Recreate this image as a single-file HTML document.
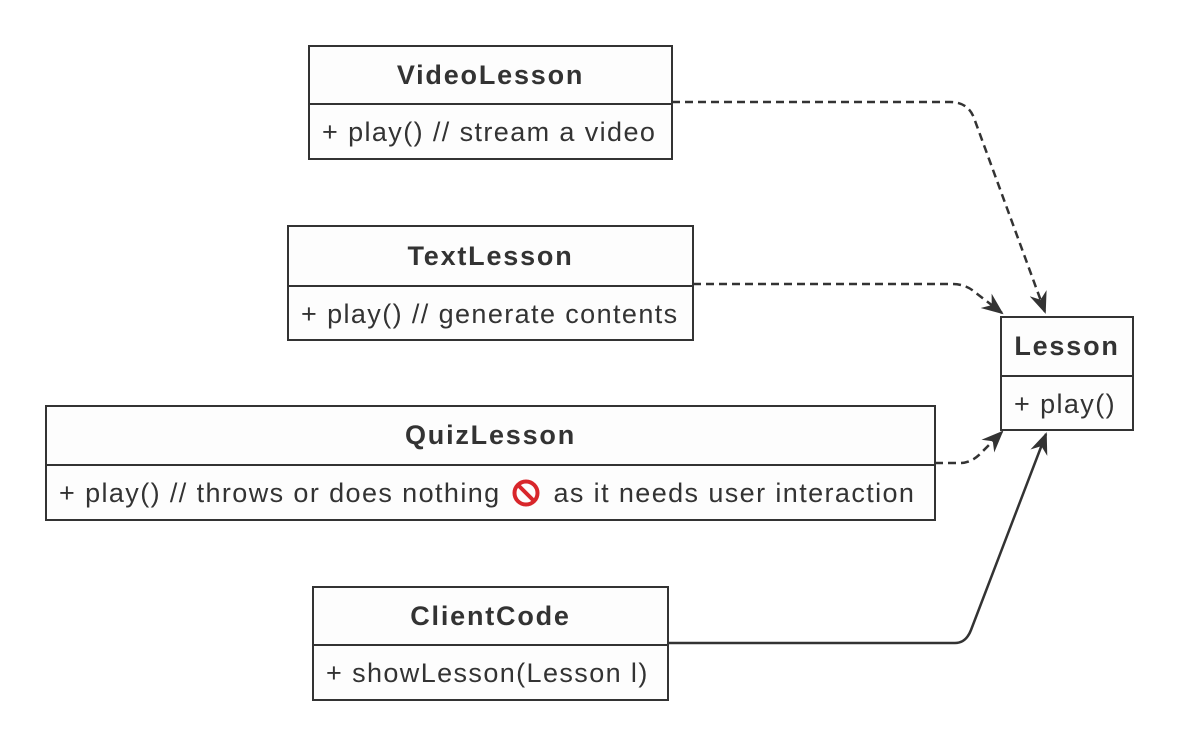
<!DOCTYPE html>
<html><head><style>
body{margin:0;background:#fff;}
.b{position:absolute;border:2.5px solid #333;background:#fdfdfd;box-sizing:border-box;font-family:Arial,Helvetica,"Liberation Sans",sans-serif;color:#333;}
.t{font-weight:bold;text-align:center;border-bottom:2.5px solid #333;box-sizing:border-box;display:flex;align-items:center;justify-content:center;font-size:27px;letter-spacing:1.8px;}
.m{font-size:27px;padding-left:12px;display:flex;align-items:center;box-sizing:border-box;white-space:nowrap;letter-spacing:1.4px;}
</style></head><body>
<svg width="1178" height="746" style="position:absolute;left:0;top:0">
<defs><marker id="a" markerWidth="24" markerHeight="20" refX="20" refY="10" orient="auto" markerUnits="userSpaceOnUse">
<path d="M0,1 L22,10 L0,19 L7,10 Z" fill="#333"/></marker></defs>
<g fill="none" stroke="#333" stroke-width="2.5">
<path d="M672 102 L950 102 Q968 102 974 118 L1045 312" stroke-dasharray="8,5" marker-end="url(#a)"/>
<path d="M693 284 L952 284 Q966 284 976 293 L1002 313" stroke-dasharray="8,5" marker-end="url(#a)"/>
<path d="M935 463 L960 463 Q972 463 982 452 L1002 432" stroke-dasharray="8,5" marker-end="url(#a)"/>
<path d="M668 643 L955 643 Q966 643 971 630 L1046 434" marker-end="url(#a)"/>
</g></svg>
<div class="b" style="left:308px;top:45px;width:365px;height:115px"><div class="t" style="height:58px">VideoLesson</div><div class="m" style="height:54px">+ play() // stream a video</div></div>
<div class="b" style="left:287px;top:225px;width:407px;height:116px"><div class="t" style="height:60px">TextLesson</div><div class="m" style="height:54px">+ play() // generate contents</div></div>
<div class="b" style="left:45px;top:405px;width:891px;height:116px"><div class="t" style="height:59px">QuizLesson</div><div class="m" style="height:54px">+ play() // throws or does nothing&nbsp;<svg width="30" height="30" viewBox="0 0 30 30" style="margin:0 12px 0 2px"><circle cx="15" cy="15" r="11.5" fill="none" stroke="#d8262b" stroke-width="4"/><line x1="7" y1="7" x2="23" y2="23" stroke="#d8262b" stroke-width="4"/></svg>as it needs user interaction</div></div>
<div class="b" style="left:312px;top:586px;width:357px;height:115px"><div class="t" style="height:58px">ClientCode</div><div class="m" style="height:54px">+ showLesson(Lesson l)</div></div>
<div class="b" style="left:1000px;top:316px;width:134px;height:115px"><div class="t" style="height:59px">Lesson</div><div class="m" style="height:54px">+ play()</div></div>
</body></html>
